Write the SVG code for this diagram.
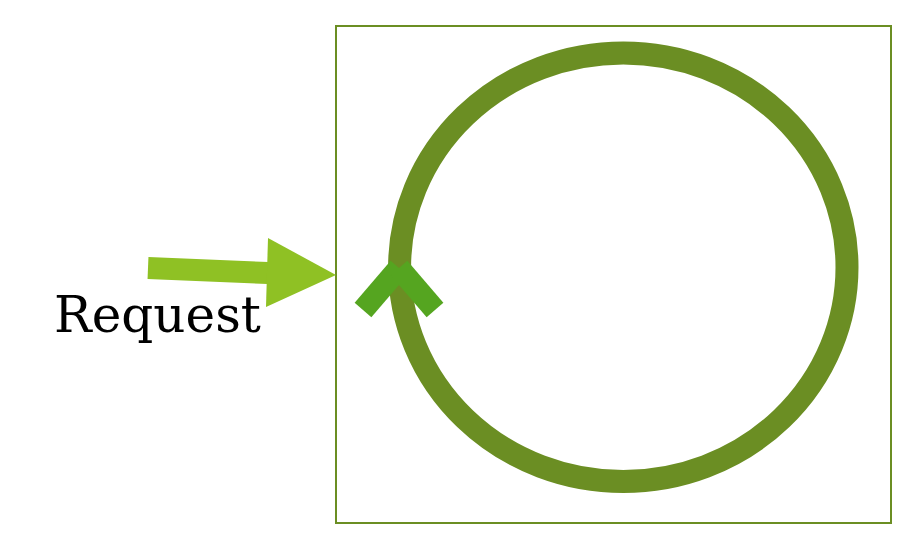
<svg xmlns="http://www.w3.org/2000/svg" width="906" height="539" viewBox="0 0 906 539">
<style>
.frame{fill:#ffffff;stroke:#6b8e23;stroke-width:2}
.loop{fill:none;stroke:#6b8e23;stroke-width:23}
.chev{fill:none;stroke:#55a520;stroke-width:22;stroke-linecap:butt}
.arrow{stroke:#8fc124;stroke-width:22;fill:none}
.head{fill:#8fc124}
.lbl{font-family:"DejaVu Serif","Liberation Serif",serif;font-size:50px;fill:#000}
</style>
<rect width="906" height="539" fill="#ffffff"/>
<g id="server">
<rect class="frame" x="336" y="26" width="555" height="497"/>
<ellipse class="loop" cx="623.3" cy="267.2" rx="223.7" ry="214.3"/>
<line class="chev" x1="399" y1="268" x2="363" y2="310"/>
<line class="chev" x1="399" y1="268" x2="435" y2="310"/>
</g>
<g id="connectors">
<line class="arrow" x1="148" y1="268" x2="268" y2="273"/>
<polygon class="head" points="268,238 336,275 266,307"/>
</g>
<g id="label">
<text class="lbl" x="157.5" y="332" text-anchor="middle">Request</text>
</g>
</svg>
